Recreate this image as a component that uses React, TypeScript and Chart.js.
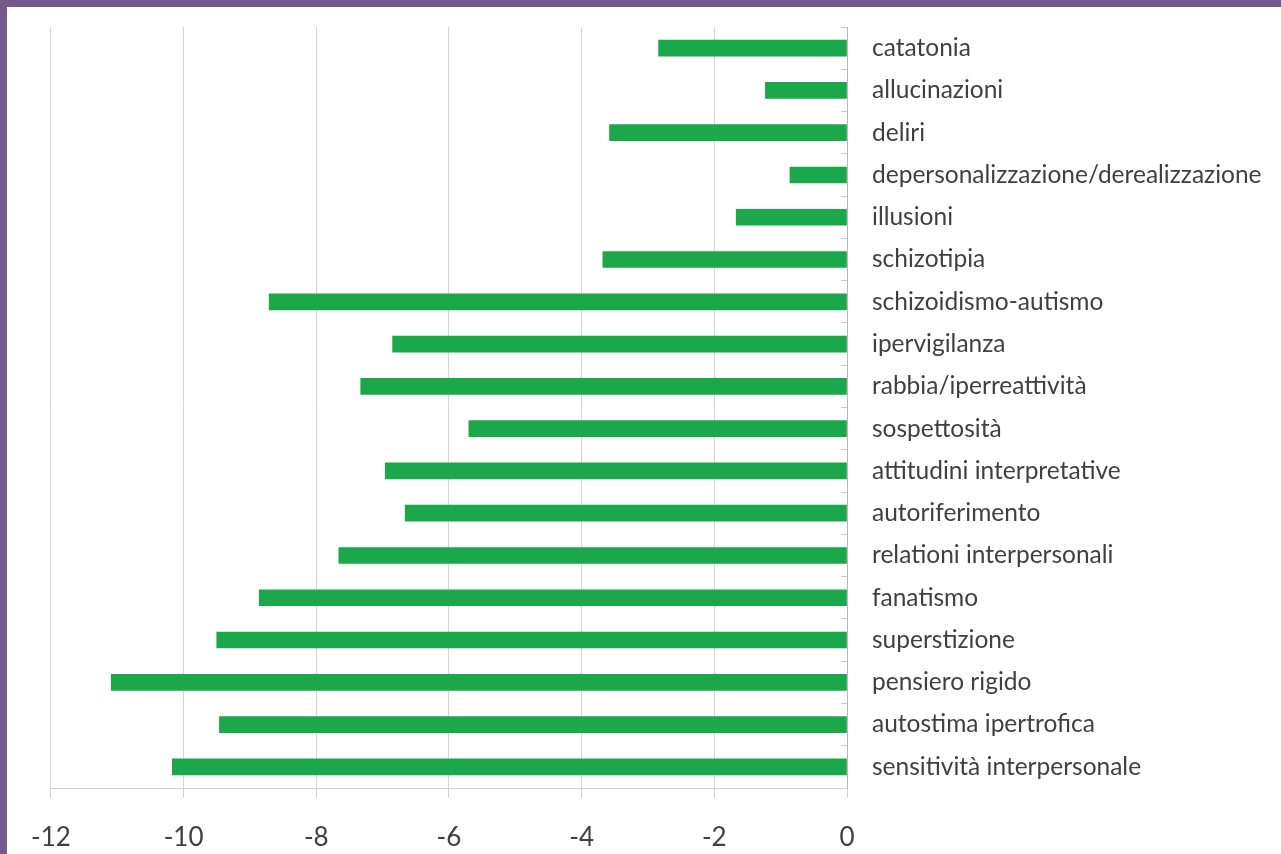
import React, { useEffect, useRef } from "react";
import { Chart, registerables } from "chart.js";

Chart.register(...registerables);

// Symptom dimensions, top to bottom
const categories: string[] = [
  "catatonia",
  "allucinazioni",
  "deliri",
  "depersonalizzazione/derealizzazione",
  "illusioni",
  "schizotipia",
  "schizoidismo-autismo",
  "ipervigilanza",
  "rabbia/iperreattività",
  "sospettosità",
  "attitudini interpretative",
  "autoriferimento",
  "relationi interpersonali",
  "fanatismo",
  "superstizione",
  "pensiero rigido",
  "autostima ipertrofica",
  "sensitività interpersonale",
];

// Score differences per dimension
const values: number[] = [
  -2.84, -1.23, -3.58, -0.86, -1.67, -3.68, -8.71, -6.85, -7.33, -5.7, -6.96,
  -6.66, -7.66, -8.86, -9.5, -11.09, -9.46, -10.17,
];

// Value axis range and step
const axisMin = -12;
const axisMax = 0;
const axisStep = 2;

const BAR_GREEN = "#1ba84b";
const TEXT = "#404040";
const FRAME = "#735a8a";
const FONT = "Lato, 'Open Sans', sans-serif";

export default function App() {
  const canvasRef = useRef<HTMLCanvasElement | null>(null);

  useEffect(() => {
    const canvas = canvasRef.current;
    if (!canvas) return;

    const chart = new Chart(canvas, {
      type: "bar",
      data: {
        labels: categories,
        datasets: [
          {
            data: values,
            backgroundColor: BAR_GREEN,
            borderWidth: 0,
            barThickness: 16,
          },
        ],
      },
      options: {
        indexAxis: "y",
        responsive: false,
        animation: false,
        layout: { padding: { left: 41, top: 20, right: 0, bottom: 0 } },
        plugins: {
          legend: { display: false },
          tooltip: { enabled: false },
        },
        scales: {
          x: {
            type: "linear",
            position: "bottom",
            min: axisMin,
            max: axisMax,
            ticks: {
              stepSize: axisStep,
              color: TEXT,
              padding: 24,
              font: { family: FONT, size: 26 },
            },
            grid: {
              color: "#d4d4d4",
              lineWidth: 1,
              tickLength: 10,
            },
            border: { display: true, color: "#cfcfcf", width: 1 },
            afterFit: (scale: any) => {
              scale.height = 66;
            },
          },
          y: {
            type: "category",
            position: "right",
            ticks: {
              color: TEXT,
              padding: 31,
              font: { family: FONT, size: 24.5 },
            },
            grid: {
              drawOnChartArea: false,
              color: "#c8c8c8",
              tickLength: -6,
            },
            border: { display: true, color: "#b8b8b8", width: 1 },
            afterFit: (scale: any) => {
              scale.width = 434;
              scale.paddingTop = 0;
              scale.paddingBottom = 0;
            },
          },
        },
      },
    });

    return () => {
      chart.destroy();
    };
  }, []);

  return (
    <div
      style={{
        position: "fixed",
        left: 0,
        top: 0,
        width: 1281,
        height: 854,
        boxSizing: "border-box",
        borderTop: `7px solid ${FRAME}`,
        borderLeft: `7px solid ${FRAME}`,
        background: "#ffffff",
      }}
    >
      <canvas
        ref={canvasRef}
        width={1274}
        height={847}
        style={{ display: "block", width: 1274, height: 847 }}
      />
    </div>
  );
}
